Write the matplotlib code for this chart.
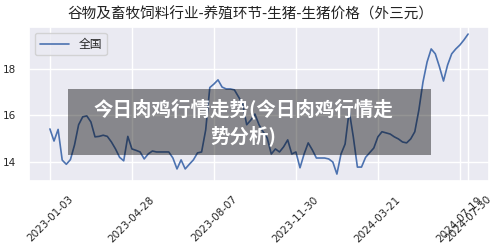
import matplotlib
matplotlib.use("Agg")
import matplotlib.pyplot as plt
import seaborn as sns
from matplotlib.patches import Rectangle

# 生猪价格（外三元），每4个交易日取一个点
price = [15.42, 14.9, 15.4, 14.08, 13.9, 14.1, 14.73, 15.6, 15.94, 15.98,
         15.72, 15.08, 15.1, 15.15, 15.1, 14.86, 14.56, 14.2, 14.05, 15.1,
         14.56, 14.5, 14.43, 14.13, 14.35, 14.47, 14.43, 14.43, 14.43, 14.43,
         14.17, 13.7, 14.09, 13.7, 13.9, 14.09, 14.39, 14.43, 15.38, 17.2,
         17.35, 17.53, 17.22, 17.14, 17.14, 17.1, 16.8, 16.5, 15.6, 15.8,
         16.06, 15.6, 15.3, 15.03, 14.34, 14.56, 14.43, 14.65, 14.95, 14.34,
         14.43, 13.75, 14.34, 14.82, 14.52, 14.17, 14.17, 14.17, 14.13, 14.0,
         13.48, 14.34, 14.77, 16.2, 15.08, 13.78, 13.78, 14.2, 14.4, 14.6,
         15.08, 15.3, 15.25, 15.2, 15.08, 14.99, 14.86, 14.82, 14.99, 15.3,
         16.24, 17.44, 18.3, 18.86, 18.65, 18.1, 17.48, 18.17, 18.65, 18.86,
         19.03, 19.25, 19.5]
tick_pos = [0, 20, 40, 60, 80, 100, 102]
tick_labels = ["2023-01-03", "2023-04-28", "2023-08-07", "2023-11-30",
               "2024-03-21", "2024-07-19", "2024-07-30"]

title = "谷物及畜牧饲料行业-养殖环节-生猪-生猪价格（外三元）"
overlay = "今日肉鸡行情走势(今日肉鸡行情走\n势分析)"
cjk = ["Noto Sans CJK SC", "DejaVu Sans"]

sns.set_theme(style="darkgrid")

fig = plt.figure(figsize=(5, 2.46), dpi=100)
ax = fig.add_axes([0.058, 0.264, 0.92, 0.626])

ax.plot(range(len(price)), price, color="#4C72B0", lw=1.2, label="全国")
ax.set_xticks(tick_pos)
ax.set_xticklabels(tick_labels, rotation=45, fontsize=7.5)
ax.set_yticks([14, 16, 18])
ax.tick_params(axis="y", labelsize=7.5)
leg = ax.legend(loc="upper left", prop={"family": cjk, "size": 8.5},
                handlelength=2.5)

fig.text(0.5, 0.94, title, ha="center", va="center", fontsize=10.5,
         family=cjk, color="#222222")

# 半透明遮罩和文字
fig.patches.append(Rectangle((0.136, 0.370), 0.726, 0.268,
                             transform=fig.transFigure, facecolor="black",
                             alpha=0.42, edgecolor="none", zorder=10))
fig.text(0.487, 0.505, overlay, ha="center", va="center", color="white",
         fontsize=14, fontweight="bold", family=cjk, linespacing=1.35,
         zorder=11)

fig.savefig("out.png", dpi=100)
